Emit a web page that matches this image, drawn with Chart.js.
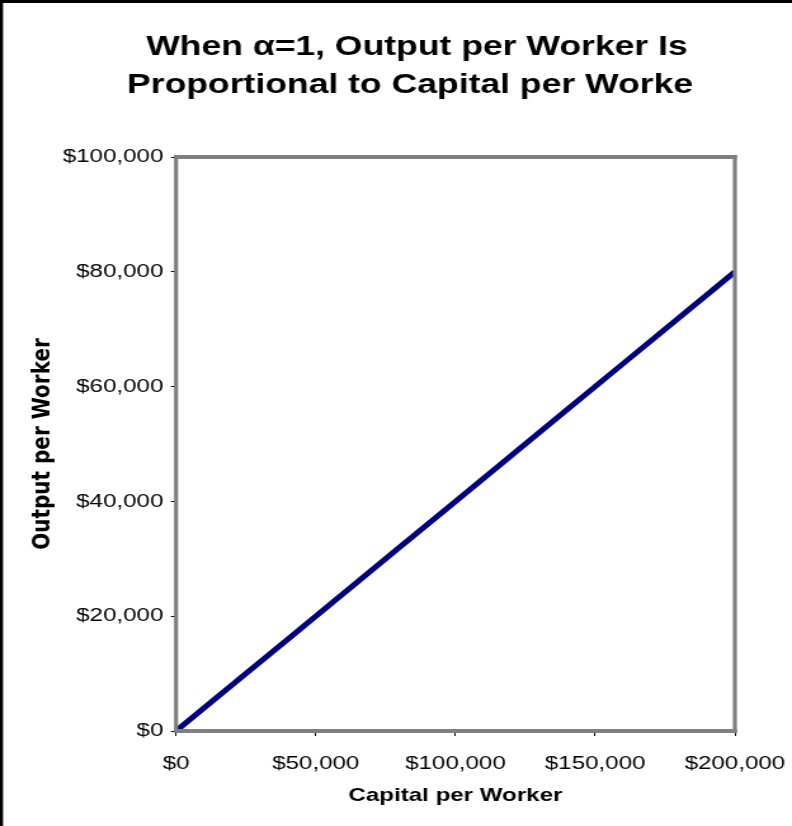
<!DOCTYPE html>
<html>
<head>
<meta charset="utf-8">
<script src="https://cdn.jsdelivr.net/npm/chart.js@4.4.1/dist/chart.umd.min.js"></script>
<style>
  html, body { margin: 0; padding: 0; background: #fff; overflow: hidden; }
  #wrap { width: 792px; height: 826px; overflow: hidden; background: #fff; }
  /* the chart is laid out narrow and stretched sideways, like the wide old-style export */
  #chart { display: block; transform: scaleX(1.2692); transform-origin: 0 0; }
</style>
</head>
<body>
<div id="wrap"><canvas id="chart" width="624" height="826"></canvas></div>
<script>
// data
const capitalPerWorker = [0, 20000, 40000, 60000, 80000, 100000, 120000, 140000, 160000, 180000, 200000];
const outputPerWorker  = [0, 8000, 16000, 24000, 32000, 40000, 48000, 56000, 64000, 72000, 80000];

const titleLines = ['When \u03b1=1, Output per Worker Is', 'Proportional to Capital per Worker'];
const xTitle = 'Capital per Worker';
const yTitle = 'Output per Worker';

const FONT = "'Liberation Sans', Arial, sans-serif";
const dollars = v => '$' + Number(v).toLocaleString('en-US');

// outer frame, title and the grey box round the plot
const decorations = {
    id: 'decorations',
    afterDraw(chart) {
        const ctx = chart.ctx;
        const a = chart.chartArea;
        ctx.save();

        // black frame (left and top edges only show)
        ctx.fillStyle = '#000';
        ctx.fillRect(0, 0, 2.4, chart.height);
        ctx.fillRect(0, 0, chart.width, 3);

        // plot box
        ctx.fillStyle = '#808080';
        ctx.fillRect(a.left - 1.6, a.top - 2, a.width + 3.2, 4);
        ctx.fillRect(a.left - 1.6, a.bottom - 2, a.width + 3.2, 4);
        ctx.fillRect(a.left - 1.6, a.top - 2, 3.2, a.height + 4);
        ctx.fillRect(a.right - 1.6, a.top - 2, 3.2, a.height + 4);

        // title, clipped at the right like the text box it came from
        ctx.beginPath();
        ctx.rect(0, 0, 546, chart.height);
        ctx.clip();
        ctx.fillStyle = '#000';
        ctx.font = 'bold 28px ' + FONT;
        ctx.textAlign = 'center';
        ctx.textBaseline = 'alphabetic';
        ctx.fillText(titleLines[0], 328.5, 55);
        ctx.fillText(titleLines[1], 328.5, 93);
        ctx.restore();
    }
};

const ctx = document.getElementById('chart').getContext('2d');
new Chart(ctx, {
    type: 'line',
    data: {
        datasets: [{
            data: capitalPerWorker.map((k, i) => ({ x: k, y: outputPerWorker[i] })),
            borderColor: '#000080',
            borderWidth: 5,
            pointRadius: 0,
            tension: 0,
            fill: false
        }]
    },
    options: {
        responsive: false,
        devicePixelRatio: 1,
        animation: false,
        layout: { padding: { top: 157, right: 45, left: 0, bottom: 0 } },
        plugins: {
            legend: { display: false },
            tooltip: { enabled: false },
            title: { display: false }
        },
        scales: {
            x: {
                type: 'linear',
                min: 0,
                max: 200000,
                // fixed axis band; the end labels may hang past the plot edges
                afterFit: s => { s.height = 95; s.paddingLeft = 0; s.paddingRight = 0; },
                border: { display: false },
                grid: { drawOnChartArea: false, drawTicks: true, tickLength: 5, tickColor: '#000', tickWidth: 1 },
                ticks: {
                    stepSize: 50000,
                    maxRotation: 0,
                    padding: 16,
                    color: '#000',
                    font: { family: FONT, size: 19 },
                    callback: dollars
                },
                title: {
                    display: true,
                    text: xTitle,
                    color: '#000',
                    font: { family: FONT, size: 19, weight: 'bold' },
                    padding: { top: 0, bottom: 19 }
                }
            },
            y: {
                min: 0,
                max: 100000,
                afterFit: s => { s.width = 138.7; s.paddingTop = 0; s.paddingBottom = 0; },
                border: { display: false },
                grid: { drawOnChartArea: false, drawTicks: true, tickLength: 4, tickColor: '#000', tickWidth: 1 },
                ticks: {
                    stepSize: 20000,
                    padding: 6,
                    color: '#000',
                    font: { family: FONT, size: 19 },
                    callback: dollars
                },
                title: {
                    display: true,
                    text: yTitle,
                    color: '#000',
                    font: { family: "'DejaVu Sans', sans-serif", size: 20, weight: 'bold' },
                    padding: { top: 22, bottom: 0 }
                }
            }
        }
    },
    plugins: [decorations]
});
</script>
</body>
</html>
